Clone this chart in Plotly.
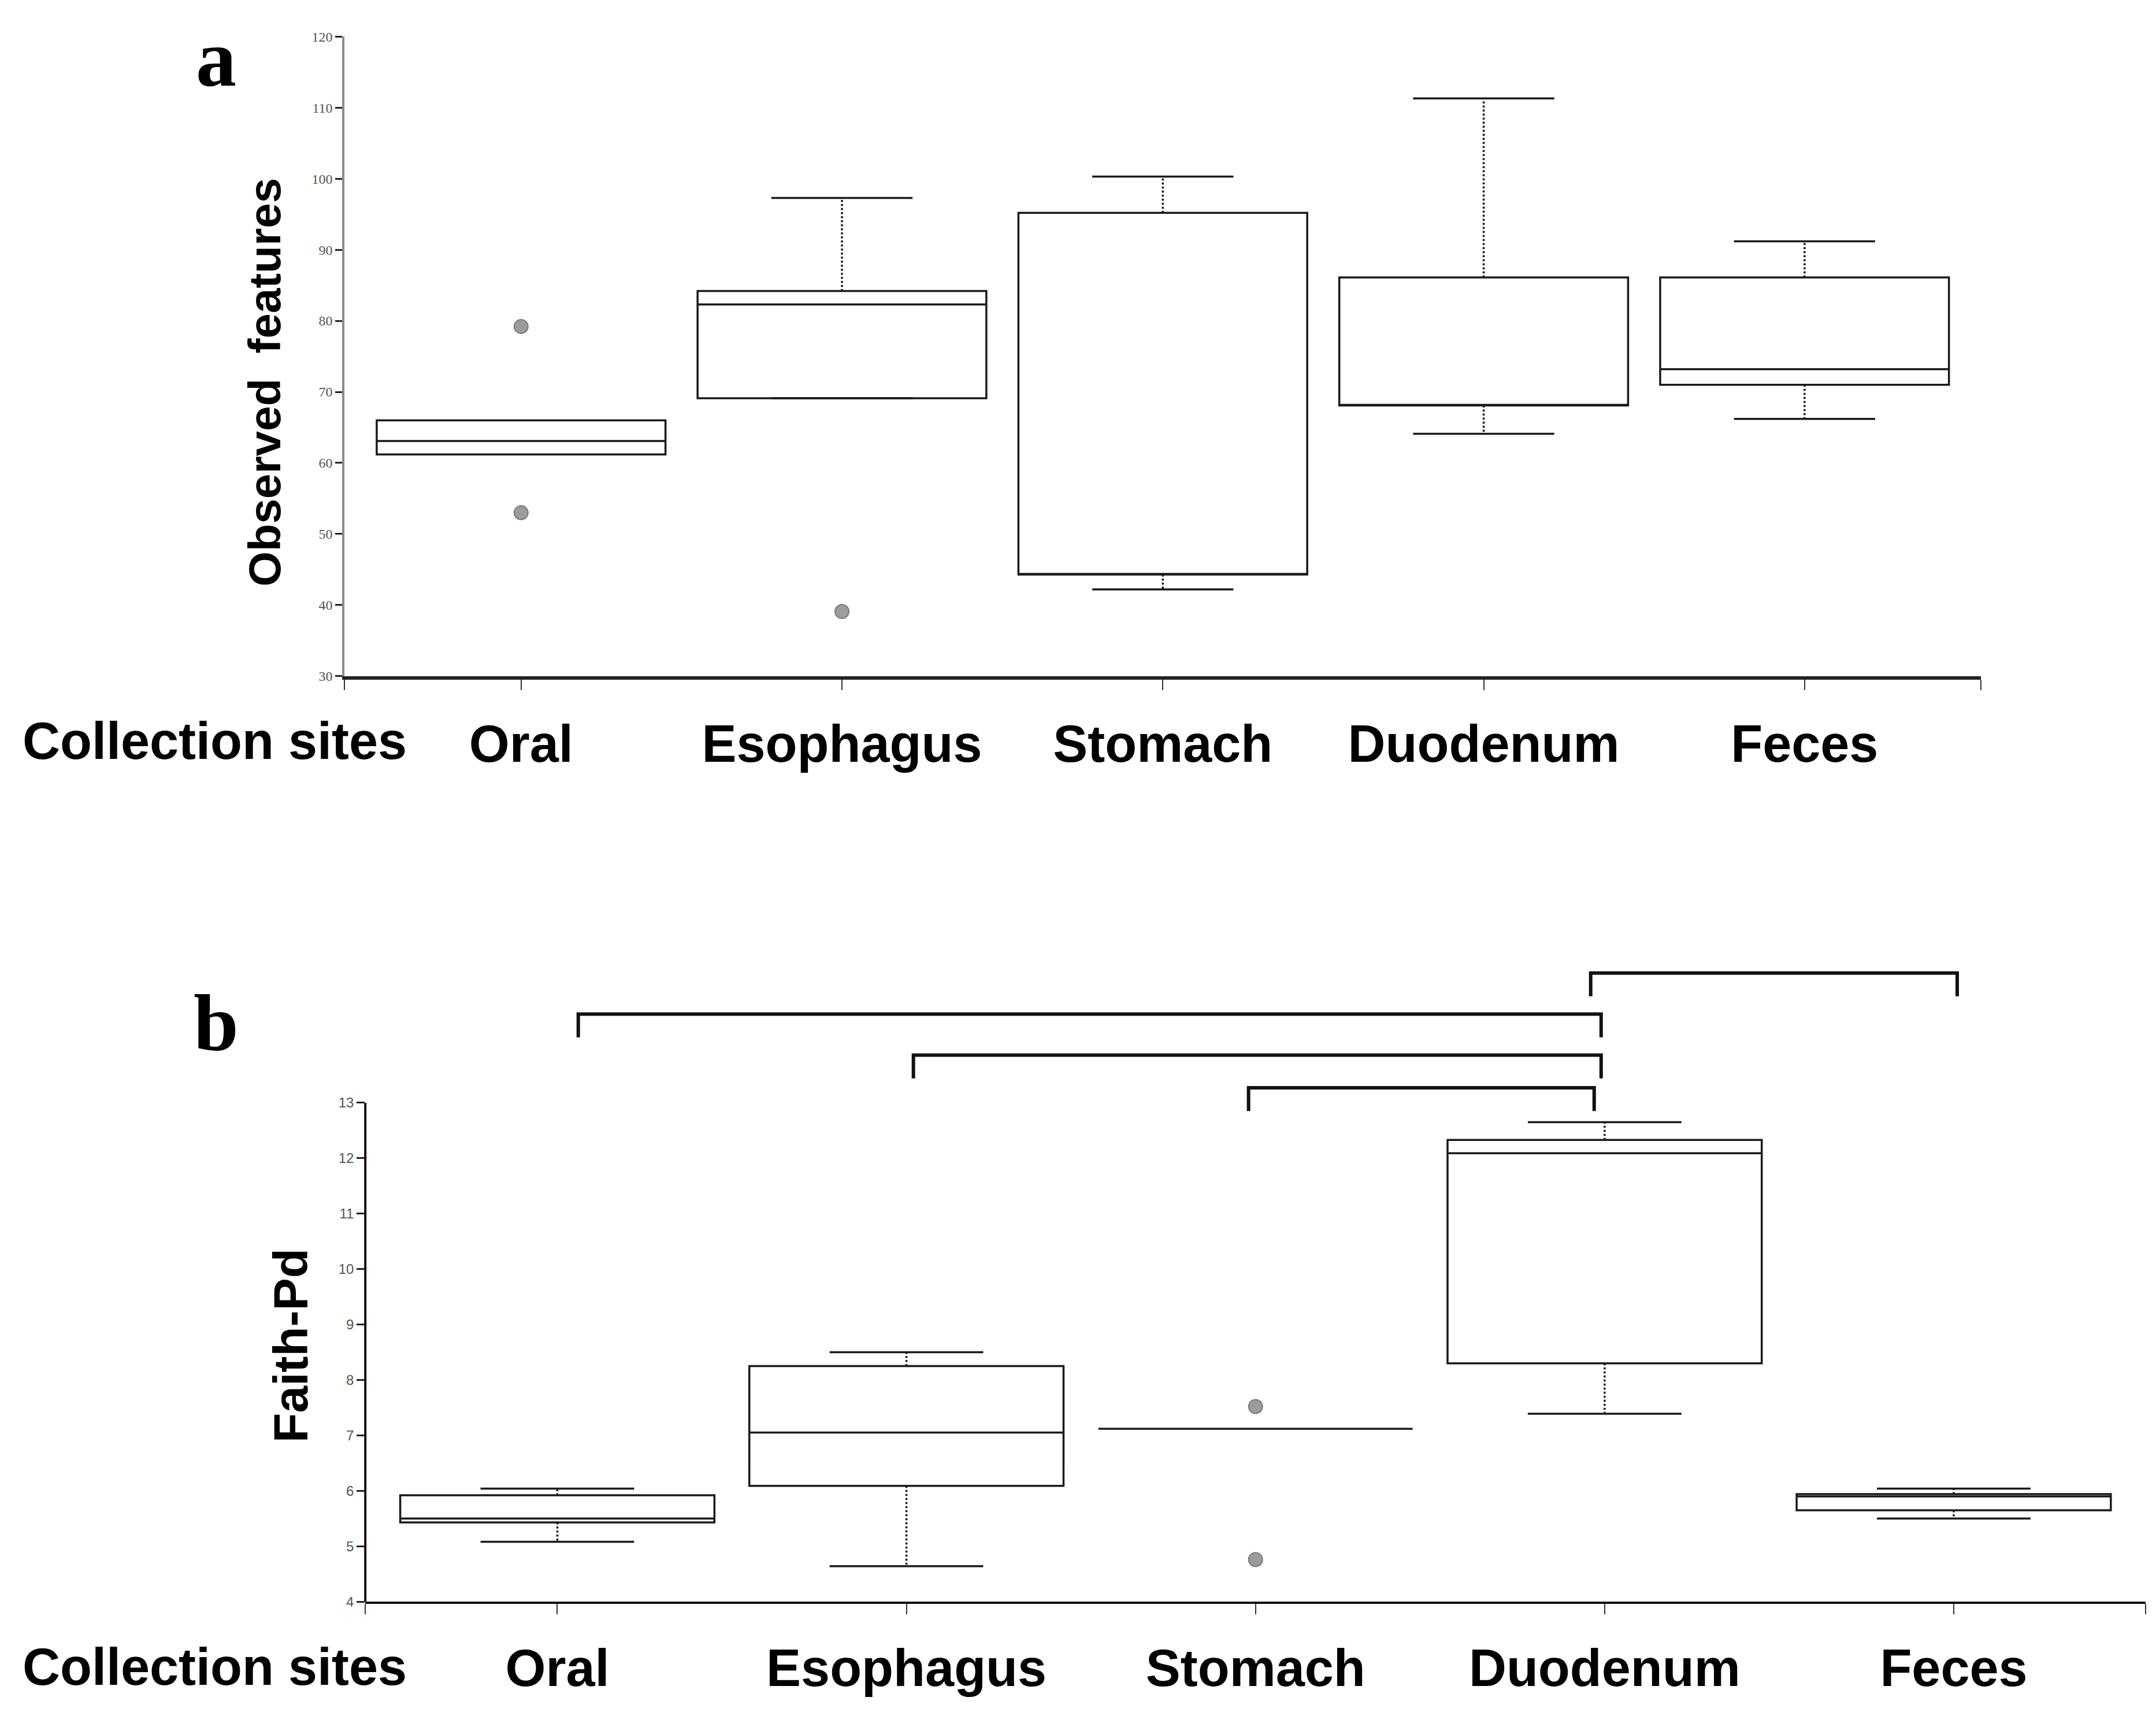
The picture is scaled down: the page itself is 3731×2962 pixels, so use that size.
import plotly.graph_objects as go

# ---------------- data ----------------
sites = ["Oral", "Esophagus", "Stomach", "Duodenum", "Feces"]

# Panel a: Observed features
a_q1 = [61.2, 69.1, 44.3, 68.1, 71.0]
a_med = [63.1, 82.3, 44.3, 68.1, 73.2]
a_q3 = [66.0, 84.2, 95.2, 86.1, 86.1]
a_low = [61.2, 69.1, 42.2, 64.1, 66.2]
a_high = [66.0, 97.3, 100.3, 111.3, 91.2]
a_out_x = [0, 0, 1]
a_out_y = [79.2, 53.0, 39.1]

# Panel b: Faith-Pd
b_q1 = [5.43, 6.09, 7.12, 8.30, 5.65]
b_med = [5.50, 7.05, 7.12, 12.09, 5.90]
b_q3 = [5.92, 8.25, 7.12, 12.33, 5.94]
b_low = [5.08, 4.64, 7.12, 7.39, 5.50]
b_high = [6.04, 8.50, 7.12, 12.65, 6.04]
b_out_x = [2, 2]
b_out_y = [7.52, 4.76]

# significance brackets: start site, end site, bracket level
br_start = [0 + 0.06, 1 + 0.02, 2 - 0.02, 3 - 0.04]
br_end = [3 - 0.01, 3 - 0.01, 3 - 0.03, 4 + 0.01]
br_level = [14.60, 13.86, 13.27, 15.34]
br_drop = 0.42

a_ticks = [30, 40, 50, 60, 70, 80, 90, 100, 110, 120]
b_ticks = [4, 5, 6, 7, 8, 9, 10, 11, 12, 13]

# ---------------- figure ----------------
W, H = 3731, 2962
BOXW = 0.9
CAPW = 0.44
XR = [-0.55, 4.55]
LINEC = "#1a1a1a"
DX = -0.0018

fig = go.Figure()


def add_panel(q1, med, q3, low, high, ox, oy, xa, ya):
    xs = list(range(len(sites)))
    fig.add_trace(go.Box(
        x=xs, q1=q1, median=med, q3=q3, lowerfence=q1, upperfence=q3,
        width=BOXW, whiskerwidth=0, boxpoints=False,
        fillcolor="white", line=dict(color=LINEC, width=3.5),
        xaxis=xa, yaxis=ya, hoverinfo="skip", showlegend=False))
    sx, sy = [], []
    cx, cy = [], []
    for i in xs:
        if high[i] > q3[i]:
            sx += [i, i, None]
            sy += [q3[i], high[i], None]
        if low[i] < q1[i]:
            sx += [i, i, None]
            sy += [q1[i], low[i], None]
        if high[i] != q3[i] or low[i] != q1[i]:
            for v in (high[i], low[i]):
                cx += [i - CAPW / 2, i + CAPW / 2, None]
                cy += [v, v, None]
    fig.add_trace(go.Scatter(x=sx, y=sy, mode="lines",
                             line=dict(color=LINEC, width=3.5, dash="dot"),
                             xaxis=xa, yaxis=ya, hoverinfo="skip", showlegend=False))
    fig.add_trace(go.Scatter(x=cx, y=cy, mode="lines",
                             line=dict(color=LINEC, width=3.5),
                             xaxis=xa, yaxis=ya, hoverinfo="skip", showlegend=False))
    fig.add_trace(go.Scatter(x=ox, y=oy, mode="markers",
                             marker=dict(size=24, color="#9c9c9c",
                                         line=dict(color="#7a7a7a", width=2)),
                             xaxis=xa, yaxis=ya, hoverinfo="skip", showlegend=False))


add_panel(a_q1, a_med, a_q3, a_low, a_high, a_out_x, a_out_y, "x", "y")
add_panel(b_q1, b_med, b_q3, b_low, b_high, b_out_x, b_out_y, "x2", "y2")

# brackets
bx, by = [], []
for s, e, lv in zip(br_start, br_end, br_level):
    bx += [s, s, e, e, None]
    by += [lv - br_drop, lv, lv, lv - br_drop, None]
fig.add_trace(go.Scatter(x=bx, y=by, mode="lines",
                         line=dict(color="#111111", width=6),
                         xaxis="x2", yaxis="y2", hoverinfo="skip", showlegend=False))

xtickvals = [XR[0]] + list(range(len(sites))) + [XR[1]]
xticktext = [""] + sites + [""]
xfont = dict(family="Liberation Sans", size=90, color="black", weight="bold")

xa_dom = [0.1595 + DX, 0.9185 + DX]
xb_dom = [0.1691 + DX, 0.9949 + DX]

fig.update_layout(
    width=W, height=H,
    margin=dict(l=0, r=0, t=0, b=0),
    paper_bgcolor="white", plot_bgcolor="white",
    showlegend=False,
    xaxis=dict(domain=xa_dom, range=XR, tickmode="array",
               tickvals=xtickvals, ticktext=xticktext, showgrid=False, zeroline=False,
               showline=True, linecolor="#222222", linewidth=6,
               ticks="outside", ticklen=18, tickwidth=2, tickcolor="#333333",
               tickfont=xfont, ticklabelstandoff=16, anchor="y"),
    yaxis=dict(domain=[0.6087, 0.9856], range=[30, 120], tickmode="array",
               tickvals=a_ticks, showgrid=False, zeroline=False,
               showline=True, linecolor="#8c8c8c", linewidth=4,
               ticks="outside", ticklen=12, tickwidth=3, tickcolor="#222222",
               tickfont=dict(family="Liberation Serif", size=24, color="#555555"),
               anchor="x"),
    xaxis2=dict(domain=xb_dom, range=XR, tickmode="array",
                tickvals=xtickvals, ticktext=xticktext, showgrid=False, zeroline=False,
                showline=True, linecolor="#111111", linewidth=4,
                ticks="outside", ticklen=18, tickwidth=2, tickcolor="#333333",
                tickfont=xfont, ticklabelstandoff=16, anchor="y2"),
    yaxis2=dict(domain=[0.0633, 0.4390], range=[4, 15.5], tickmode="array",
                tickvals=b_ticks, showgrid=False, zeroline=False, showline=False,
                ticks="outside", ticklen=14, tickwidth=3, tickcolor="#222222",
                tickfont=dict(family="Liberation Sans", size=24, color="#555555"),
                anchor="x2"),
)

# y-axis line for panel b (only up to 13)
fig.add_shape(type="line", xref="paper", yref="y2", x0=xb_dom[0], x1=xb_dom[0],
              y0=b_ticks[0], y1=b_ticks[-1], line=dict(color="#111111", width=4))

# texts
fig.add_annotation(text="a", xref="paper", yref="paper", x=0.098, y=1.0,
                   showarrow=False, xanchor="center", yanchor="top",
                   font=dict(family="Liberation Serif", size=140, color="black", weight="bold"))
fig.add_annotation(text="b", xref="paper", yref="paper", x=0.098, y=0.4045,
                   showarrow=False, xanchor="center", yanchor="middle",
                   font=dict(family="Liberation Serif", size=140, color="black", weight="bold"))
fig.add_annotation(text="Observed  features", xref="paper", yref="paper", x=0.1205, y=0.782,
                   showarrow=False, textangle=-90, xanchor="center", yanchor="middle",
                   font=dict(family="Liberation Sans", size=78, color="black", weight="bold"))
fig.add_annotation(text="Faith-Pd", xref="paper", yref="paper", x=0.1325, y=0.2144,
                   showarrow=False, textangle=-90, xanchor="center", yanchor="middle",
                   font=dict(family="Liberation Sans", size=84, color="black", weight="bold"))
fig.add_annotation(text="Collection sites", xref="paper", yref="paper", x=0.0975, y=0.5705,
                   showarrow=False, xanchor="center", yanchor="middle",
                   font=xfont)
fig.add_annotation(text="Collection sites", xref="paper", yref="paper", x=0.0975, y=0.0250,
                   showarrow=False, xanchor="center", yanchor="middle",
                   font=xfont)

fig.write_html("out.html")
